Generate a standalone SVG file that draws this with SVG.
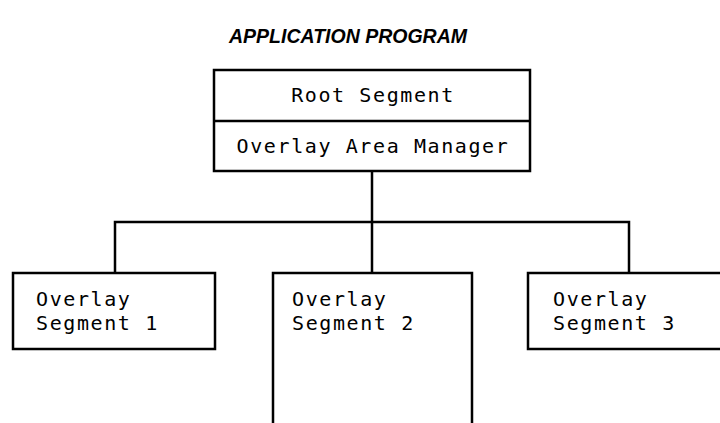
<svg xmlns="http://www.w3.org/2000/svg" width="720" height="423" viewBox="0 0 720 423">
<style>
.box{fill:#fff;stroke:#000;stroke-width:2.5}
.ln{fill:none;stroke:#000;stroke-width:2.5}
.t{font-family:"DejaVu Sans Mono","Liberation Mono",monospace;font-size:20px;letter-spacing:1.6px;fill:#000}
.title{font-family:"Liberation Sans",Arial,sans-serif;font-size:19.5px;font-weight:bold;font-style:italic;fill:#000}
</style>
<rect width="720" height="423" fill="#fff"/>
<text class="title" x="348" y="43" text-anchor="middle">APPLICATION PROGRAM</text>
<g id="connectors">
<path class="ln" d="M372 171 V273 M115 273 V222 H629 V273"/>
</g>
<g id="root">
<rect class="box" x="214" y="70" width="316" height="101"/>
<line class="ln" x1="214" y1="121" x2="530" y2="121"/>
<text class="t" x="373" y="102" text-anchor="middle">Root Segment</text>
<text class="t" x="373" y="153" text-anchor="middle">Overlay Area Manager</text>
</g>
<g id="seg1">
<rect class="box" x="13" y="273" width="202" height="76"/>
<text class="t" x="36" y="306">Overlay</text>
<text class="t" x="36" y="330">Segment 1</text>
</g>
<g id="seg2">
<path class="box" d="M273 430 V273 H472 V430"/>
<text class="t" x="292" y="306">Overlay</text>
<text class="t" x="292" y="330">Segment 2</text>
</g>
<g id="seg3">
<path class="box" d="M724 273 H528 V349 H724"/>
<text class="t" x="553" y="306">Overlay</text>
<text class="t" x="553" y="330">Segment 3</text>
</g>
</svg>
